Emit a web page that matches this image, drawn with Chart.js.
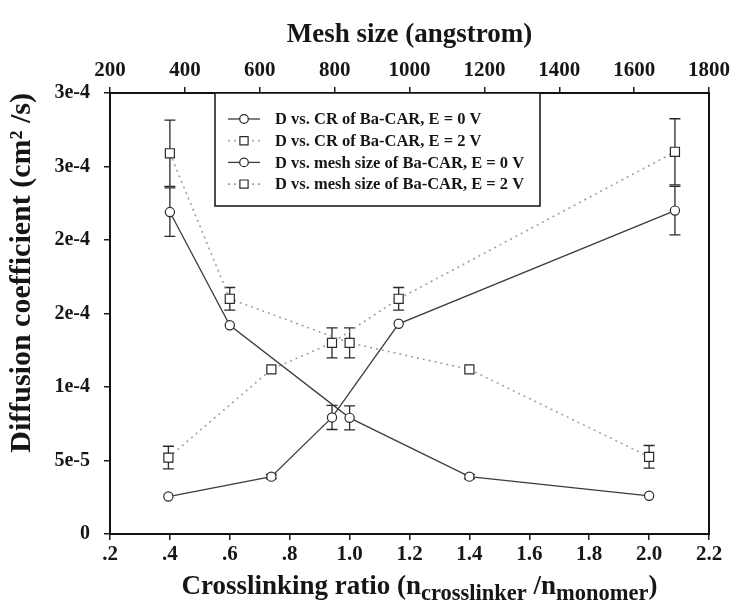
<!DOCTYPE html>
<html><head><meta charset="utf-8">
<script src="https://cdn.jsdelivr.net/npm/chart.js@4.4.1/dist/chart.umd.min.js"></script>
<style>html,body{margin:0;padding:0;background:#fff;}#wrap{width:735px;height:613px;position:relative;}</style>
</head><body><div id="wrap"><canvas id="c"></canvas></div>
<script>
// ---- data ----
const crRatio   = [0.4, 0.6, 1.0, 1.4, 2.0];
const dCrE0     = [2.19e-4, 1.42e-4, 7.9e-5, 3.9e-5, 2.6e-5];
const errCrE0   = [1.65e-5, 0, 8.2e-6, 1.5e-6, 0];
const dCrE2     = [2.59e-4, 1.6e-4, 1.3e-4, 1.12e-4, 5.25e-5];
const errCrE2   = [2.25e-5, 7.7e-6, 1.02e-5, 0, 7.7e-6];
const meshSize  = [356, 631, 793, 971, 1709];
const dMeshE0   = [2.55e-5, 3.9e-5, 7.93e-5, 1.43e-4, 2.2e-4];
const errMeshE0 = [0, 1.5e-6, 8.2e-6, 0, 1.65e-5];
const dMeshE2   = [5.2e-5, 1.12e-4, 1.3e-4, 1.6e-4, 2.6e-4];
const errMeshE2 = [7.7e-6, 0, 1.02e-5, 7.7e-6, 2.25e-5];
const seriesNames = ['D vs. CR of Ba-CAR, E = 0 V', 'D vs. CR of Ba-CAR, E = 2 V',
                     'D vs. mesh size of Ba-CAR, E = 0 V', 'D vs. mesh size of Ba-CAR, E = 2 V'];
const xTickValues = [0.2, 0.4, 0.6, 0.8, 1.0, 1.2, 1.4, 1.6, 1.8, 2.0, 2.2];
const xTickLabels = ['.2', '.4', '.6', '.8', '1.0', '1.2', '1.4', '1.6', '1.8', '2.0', '2.2'];
const meshTickValues = [200, 400, 600, 800, 1000, 1200, 1400, 1600, 1800];
const meshTickLabels = ['200', '400', '600', '800', '1000', '1200', '1400', '1600', '1800'];
const yTickValues = [0, 5e-5, 1e-4, 1.5e-4, 2e-4, 2.5e-4, 3e-4];
const yTickLabels = ['0', '5e-5', '1e-4', '2e-4', '2e-4', '3e-4', '3e-4'];
const xTitleParts = [['Crosslinking ratio (n', false], ['crosslinker', true], [' /n', false], ['monomer', true], [')', false]];

const SERIF = '"Liberation Serif", "Times New Roman", serif';
const INK = '#161616';
const solidStyle = {showLine: true, borderColor: '#3c3c3c', borderWidth: 1.3, pointBackgroundColor: '#fff',
  pointBorderColor: '#2a2a2a', pointBorderWidth: 1.2, pointStyle: 'circle', pointRadius: 4.6};
const dotStyle = {showLine: true, borderColor: '#a0a0a0', borderWidth: 1.6, borderDash: [2, 4], pointBackgroundColor: '#fff',
  pointBorderColor: '#2a2a2a', pointBorderWidth: 1.2, pointStyle: 'rect', pointRadius: 6.4};

function pts(xs, ys) { return xs.map((x, i) => ({x: x, y: ys[i]})); }

const datasets = [
  Object.assign({label: seriesNames[0], data: pts(crRatio, dCrE0), xAxisID: 'x', yAxisID: 'y', errors: errCrE0}, solidStyle),
  Object.assign({label: seriesNames[1], data: pts(crRatio, dCrE2), xAxisID: 'x', yAxisID: 'y', errors: errCrE2}, dotStyle),
  Object.assign({label: seriesNames[2], data: pts(meshSize, dMeshE0), xAxisID: 'x2', yAxisID: 'y', errors: errMeshE0}, solidStyle),
  Object.assign({label: seriesNames[3], data: pts(meshSize, dMeshE2), xAxisID: 'x2', yAxisID: 'y', errors: errMeshE2}, dotStyle)
];

const errorBars = {
  id: 'errorBars',
  beforeDatasetsDraw(chart) {
    const ctx = chart.ctx;
    ctx.save();
    ctx.strokeStyle = '#2a2a2a';
    ctx.lineWidth = 1.3;
    chart.data.datasets.forEach(ds => {
      const xs = chart.scales[ds.xAxisID], ys = chart.scales[ds.yAxisID];
      ds.data.forEach((p, j) => {
        const e = ds.errors[j];
        if (!e) return;
        const px = xs.getPixelForValue(p.x);
        const yt = ys.getPixelForValue(p.y + e), yb = ys.getPixelForValue(p.y - e);
        ctx.beginPath();
        ctx.moveTo(px, yt); ctx.lineTo(px, yb);
        ctx.moveTo(px - 5.5, yt); ctx.lineTo(px + 5.5, yt);
        ctx.moveTo(px - 5.5, yb); ctx.lineTo(px + 5.5, yb);
        ctx.stroke();
      });
    });
    ctx.restore();
  }
};

const boxLegend = {
  id: 'boxLegend',
  afterDatasetsDraw(chart) {
    const ctx = chart.ctx, ca = chart.chartArea;
    const bx = ca.left + 105, by = ca.top, bw = 325, bh = 113;
    ctx.save();
    ctx.fillStyle = '#fff';
    ctx.fillRect(bx, by, bw, bh);
    ctx.strokeStyle = '#111';
    ctx.lineWidth = 1.5;
    ctx.strokeRect(bx, by, bw, bh);
    chart.data.datasets.forEach((ds, i) => {
      const ry = by + 26 + i * 21.7;
      ctx.save();
      ctx.strokeStyle = ds.borderColor;
      ctx.lineWidth = ds.borderWidth;
      ctx.setLineDash(ds.borderDash || []);
      ctx.beginPath();
      ctx.moveTo(bx + 13, ry); ctx.lineTo(bx + 45, ry);
      ctx.stroke();
      ctx.restore();
      ctx.save();
      ctx.fillStyle = '#fff';
      ctx.strokeStyle = ds.pointBorderColor;
      ctx.lineWidth = ds.pointBorderWidth;
      Chart.helpers.drawPoint(ctx, {pointStyle: ds.pointStyle, radius: ds.pointStyle === 'rect' ? 5.8 : 4.3, borderWidth: ds.pointBorderWidth}, bx + 29, ry);
      ctx.restore();
      ctx.fillStyle = INK;
      ctx.font = 'bold 16.5px ' + SERIF;
      ctx.textBaseline = 'middle';
      ctx.textAlign = 'left';
      ctx.fillText(ds.label, bx + 60, ry + 1);
    });
    ctx.restore();
  }
};

const bottomTitle = {
  id: 'bottomTitle',
  afterDraw(chart) {
    const ctx = chart.ctx, ca = chart.chartArea;
    const mainFont = 'bold 27px ' + SERIF, subFont = 'bold 22.5px ' + SERIF;
    ctx.save();
    ctx.fillStyle = INK;
    ctx.textBaseline = 'alphabetic';
    ctx.textAlign = 'left';
    let total = 0;
    xTitleParts.forEach(([t, sub]) => { ctx.font = sub ? subFont : mainFont; total += ctx.measureText(t).width; });
    let x = (ca.left + ca.right) / 2 + 10 - total / 2;
    const base = ca.bottom + 60;
    xTitleParts.forEach(([t, sub]) => {
      ctx.font = sub ? subFont : mainFont;
      ctx.fillText(t, x, sub ? base + 6 : base);
      x += ctx.measureText(t).width;
    });
    ctx.restore();
  }
};

function setTicks(values) { return s => { s.ticks = values.map(v => ({value: v})); }; }
const axisGrid = {drawOnChartArea: false, drawTicks: true, tickLength: 6, color: '#1a1a1a', lineWidth: 1.5};
const axisBorder = {display: true, color: '#111', width: 2};

new Chart(document.getElementById('c'), {
  type: 'scatter',
  data: {datasets: datasets},
  options: {
    responsive: true, maintainAspectRatio: false, animation: false,
    layout: {padding: 0},
    plugins: {legend: {display: false}, tooltip: {enabled: false}},
    scales: {
      x: {type: 'linear', position: 'bottom', min: 0.2, max: 2.2,
        afterBuildTicks: setTicks(xTickValues),
        afterFit: s => { s.height = 79; },
        ticks: {callback: (v, i) => xTickLabels[i], font: {family: SERIF, size: 21, weight: 'bold'}, color: INK, padding: 2, maxRotation: 0, autoSkip: false},
        grid: axisGrid, border: axisBorder},
      x2: {type: 'linear', position: 'top', min: 200, max: 1800,
        afterBuildTicks: setTicks(meshTickValues),
        afterFit: s => { s.height = 93; },
        ticks: {callback: (v, i) => meshTickLabels[i], font: {family: SERIF, size: 21, weight: 'bold'}, color: INK, padding: 4, maxRotation: 0, autoSkip: false},
        grid: axisGrid, border: axisBorder,
        title: {display: true, text: 'Mesh size (angstrom)', color: INK, font: {family: SERIF, size: 27, weight: 'bold'}, padding: {top: 19, bottom: 0}}},
      y: {type: 'linear', position: 'left', min: 0, max: 3e-4,
        afterBuildTicks: setTicks(yTickValues),
        afterFit: s => { s.width = 110; },
        ticks: {callback: (v, i) => yTickLabels[i], font: {family: SERIF, size: 20, weight: 'bold'}, color: INK, padding: 14},
        grid: axisGrid, border: axisBorder,
        title: {display: true, text: 'Diffusion coefficient (cm\u00B2 /s)', align: 'end', color: INK, font: {family: SERIF, size: 30, weight: 'bold'}, padding: {top: 4, bottom: 0}}},
      yR: {type: 'linear', position: 'right', min: 0, max: 3e-4,
        afterFit: s => { s.width = 26; },
        ticks: {display: false},
        grid: {drawOnChartArea: false, drawTicks: false},
        border: axisBorder}
    }
  },
  plugins: [errorBars, boxLegend, bottomTitle]
});
</script></body></html>
